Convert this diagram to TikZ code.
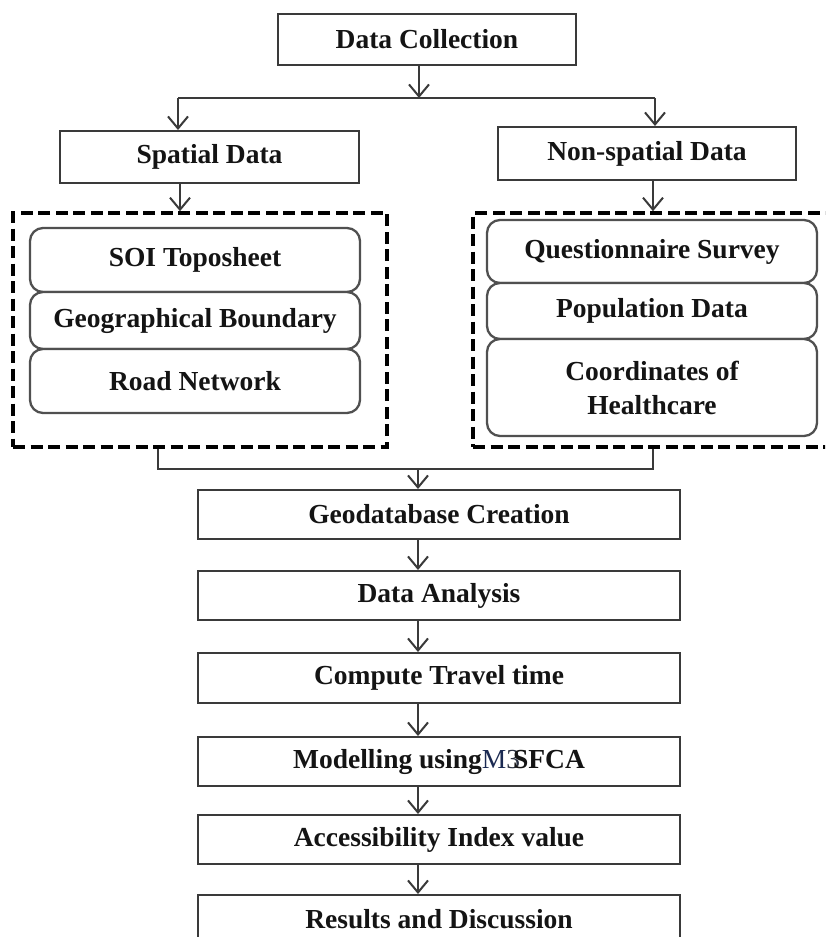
\documentclass[tikz,border=0pt]{standalone}
\usepackage{fontspec}
\setmainfont{Liberation Serif}
\usetikzlibrary{arrows.meta}
\definecolor{edge}{HTML}{3A3A3A}
\definecolor{inedge}{HTML}{505050}
\definecolor{txt}{HTML}{141414}
\definecolor{mblue}{HTML}{1B2A52}
\definecolor{mthree}{HTML}{2A3040}
\tikzset{
  flowbox/.style={draw=edge, line width=2pt, fill=white, inner sep=0pt, text=txt,
    font=\fontsize{27.5}{34}\selectfont\bfseries, align=center},
  layerbox/.style={draw=inedge, line width=2.3pt, rounded corners=13pt, fill=white, inner sep=0pt, text=txt,
    font=\fontsize{27.5}{34}\selectfont\bfseries, align=center},
  dashbox/.style={draw=black, line width=3.6pt, dash pattern=on 12pt off 5.5pt, inner sep=0pt},
  link/.style={draw=edge, line width=2pt},
  arr/.style={link, -{Straight Barb[length=12pt,width=20pt,line width=2pt]}}
}
\begin{document}
\begin{tikzpicture}[x=1pt,y=-1pt]
\useasboundingbox (0,0) rectangle (825,937);
\clip (0,0) rectangle (825,937);
% top
\node[flowbox, minimum width=298, minimum height=51] (dc) at (427,39.5) {Data Collection};
\node[flowbox, minimum width=299, minimum height=52] (sp) at (209.5,157) {Spatial Data};
\node[flowbox, minimum width=298, minimum height=53] (ns) at (647,153.5) {Non-spatial Data};
\coordinate (jL) at (178,98);
\coordinate (jR) at (655,98);
\coordinate (jC) at (419,98);
\draw[link] (jL) -- (jR);
\draw[arr] (dc.south -| jC) -- (jC);
\draw[arr] (jL) -- (jL |- sp.north);
\draw[arr] (jR) -- (jR |- ns.north);
% dashed groups
\node[dashbox, minimum width=374, minimum height=234] (ld) at (200,330) {};
\node[dashbox, minimum width=380, minimum height=234] (rd) at (663,330) {};
\coordinate (aL) at (180,200);
\coordinate (aR) at (653,200);
\draw[arr] (sp.south -| aL) -- (aL |- ld.north);
\draw[arr] (ns.south -| aR) -- (aR |- rd.north);
% left layers
\node[layerbox, minimum width=330, minimum height=64] (soi) at (195,260) {SOI Toposheet};
\node[layerbox, minimum width=330, minimum height=57] (geob) at (195,320.5) {Geographical Boundary};
\node[layerbox, minimum width=330, minimum height=64] (road) at (195,381) {Road Network};
% right layers
\node[layerbox, minimum width=330, minimum height=63] (qs) at (652,251.5) {Questionnaire Survey};
\node[layerbox, minimum width=330, minimum height=56] (pop) at (652,311) {Population Data};
\node[layerbox, minimum width=330, minimum height=97] (coh) at (652,387.5) {Coordinates of\\Healthcare};
% merge
\coordinate (bL) at (158,469);
\coordinate (bR) at (653,469);
\coordinate (bC) at (418,469);
\draw[link] (bL |- ld.south) -- (bL) -- (bR) -- (bR |- rd.south);
% chain
\node[flowbox, minimum width=482, minimum height=49] (geo) at (439,514.5) {Geodatabase Creation};
\node[flowbox, minimum width=482, minimum height=49] (da) at (439,595.5) {Data Analysis};
\node[flowbox, minimum width=482, minimum height=50] (ct) at (439,678) {Compute Travel time};
\node[flowbox, minimum width=482, minimum height=49] (mod) at (439,761.5) {Modelling using{\mdseries\textcolor{mblue}{M}\textcolor{mthree}{3}}\kern-7pt SFCA};
\node[flowbox, minimum width=482, minimum height=49] (acc) at (439,839.5) {Accessibility Index value};
\node[flowbox, minimum width=482, minimum height=70, anchor=north] (res) at (439,894) {};
\node[text=txt, font=\fontsize{27.5}{34}\selectfont\bfseries] (restxt) at (439,919) {Results and Discussion};
\draw[arr] (bC) -- (bC |- geo.north);
\draw[arr] (geo.south -| bC) -- (bC |- da.north);
\draw[arr] (da.south -| bC) -- (bC |- ct.north);
\draw[arr] (ct.south -| bC) -- (bC |- mod.north);
\draw[arr] (mod.south -| bC) -- (bC |- acc.north);
\draw[arr] (acc.south -| bC) -- (bC |- res.north);
\end{tikzpicture}
\end{document}
